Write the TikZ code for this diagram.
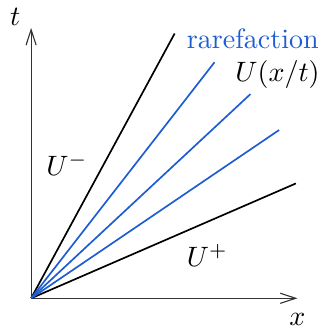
\documentclass[tikz,border=0pt]{standalone}
\usepackage{amsmath}
\usetikzlibrary{arrows.meta,positioning}
\definecolor{fanblue}{RGB}{30,92,210}

\begin{document}
\begin{tikzpicture}[
  axis/.style={-{Straight Barb[length=5.5pt,width=3.6pt]}, draw=black!80},
  wave/.style={semithick, draw=black},
  fan/.style={semithick, draw=fanblue},
  lbl/.style={inner sep=1pt}
]
\useasboundingbox (-0.39,-0.36) rectangle (3.65,3.74);

\coordinate (o) at (0,0);
\coordinate (xend) at (3.34,0);
\coordinate (tend) at (0,3.39);
\draw[axis] (o) -- (xend);
\draw[axis] (o) -- (tend);
\node[lbl] (tlab) at (-0.20,3.53) {$t$};
\node[lbl] (xlab) at (3.34,-0.27) {$x$};

% bounding waves
\coordinate (left) at (1.80,3.32);
\coordinate (right) at (3.32,1.44);
\draw[wave] (o) -- (left);
\draw[wave] (o) -- (right);

% fan of characteristics
\coordinate (f1) at (2.30,2.96);
\coordinate (f2) at (2.75,2.56);
\coordinate (f3) at (3.11,2.11);
\foreach \f in {f1,f2,f3}
  \draw[fan] (o) -- (\f);

\node[lbl, text=fanblue] (rare) at (2.78,3.25) {rarefaction};
\node[lbl] (ufan) at (3.09,2.81) {$U(x/t)$};
\node[lbl] (uminus) at (0.45,1.68) {$U^-$};
\node[lbl] (uplus) at (2.21,0.54) {$U^+$};

\end{tikzpicture}
\end{document}
